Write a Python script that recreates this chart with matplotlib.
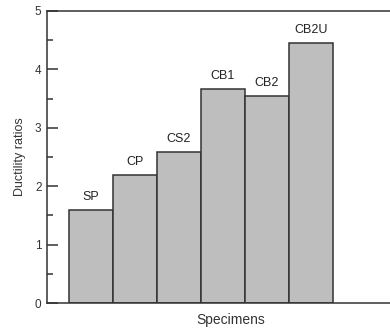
import matplotlib
matplotlib.use("Agg")
from matplotlib import pyplot as plt
from matplotlib.ticker import MultipleLocator

# ductility ratio of each specimen
specimens = ["SP", "CP", "CS2", "CB1", "CB2", "CB2U"]
ratios = [1.59, 2.19, 2.59, 3.66, 3.54, 4.46]

plt.rcParams["font.family"] = ["Liberation Sans", "DejaVu Sans"]

fig = plt.figure(figsize=(3.9, 3.28), dpi=100)
ax = fig.add_axes([0.1205, 0.0762, 0.8795, 0.8903])

pos = list(range(len(specimens)))
ax.bar(pos, ratios, width=1.0, color="#bebebe", edgecolor="#333333", linewidth=1.1)

for p, r, name in zip(pos, ratios, specimens):
    ax.annotate(name, (p, r), xytext=(0, 5), textcoords="offset points",
                ha="center", va="bottom", fontsize=9, color="#222222")

ax.set_xlim(-1, 6.8)
ax.set_ylim(0, 5)
ax.yaxis.set_major_locator(MultipleLocator(1))
ax.yaxis.set_minor_locator(MultipleLocator(0.5))
ax.tick_params(axis="y", which="major", direction="in", length=8, width=1.1,
               labelsize=8.5, colors="#333333", pad=4)
ax.tick_params(axis="y", which="minor", direction="in", length=4, width=1.1,
               colors="#333333")
ax.set_xticks([])

for s in ["left", "top", "bottom"]:
    ax.spines[s].set_color("#333333")
    ax.spines[s].set_linewidth(1.1)
ax.spines["right"].set_visible(False)

ax.set_xlabel("Specimens", fontsize=10, color="#333333")
ax.xaxis.set_label_coords(0.536, -0.034, transform=ax.transAxes)
ax.xaxis.label.set_va("top")
ax.set_ylabel("Ductility ratios", fontsize=9, color="#333333")
ax.yaxis.set_label_coords(-0.062, 0.5)

fig.savefig("out.png", dpi=100)
